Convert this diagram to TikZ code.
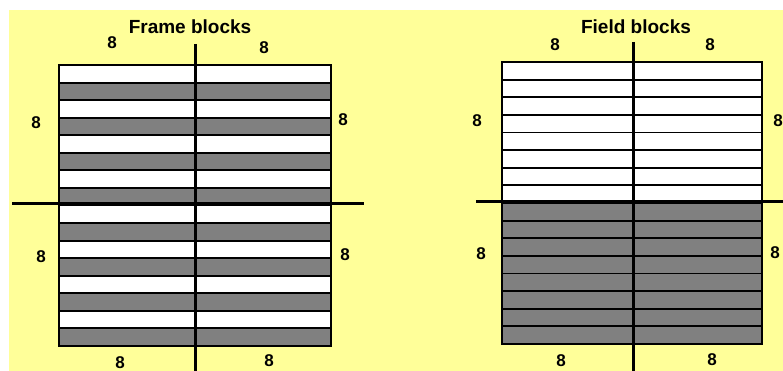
\documentclass[tikz,border=0pt]{standalone}
\usepackage{fontspec}
\setmainfont{Liberation Sans}
\definecolor{bgyellow}{RGB}{255,255,153}
\definecolor{blockgray}{RGB}{128,128,128}
\tikzset{
  lbl/.style={font=\bfseries\fontsize{17}{17}\selectfont, inner sep=0pt},
  ttl/.style={font=\bfseries\fontsize{19}{19}\selectfont, inner sep=0pt},
  rowline/.style={draw=black, line width=1.9pt},
  outline/.style={draw=black, line width=2.6pt},
  axis/.style={draw=black, line width=3pt}
}
\begin{document}
\begin{tikzpicture}[x=1pt,y=-1pt]
\useasboundingbox (0,0) rectangle (783,371);
\fill[white] (0,0) rectangle (783,371);
\fill[bgyellow] (9,10) rectangle (783,371);

% ---------- Frame blocks ----------
\foreach \i in {0,2,...,14}{
  \path[rowline, fill=white] (59,{65+\i*17.5625}) rectangle (331,{65+(\i+1)*17.5625});
}
\foreach \i in {1,3,...,15}{
  \path[rowline, fill=blockgray] (59,{65+\i*17.5625}) rectangle (331,{65+(\i+1)*17.5625});
}
\path[outline] (59,65) rectangle (331,346);
\coordinate (fvt) at (195,44);
\coordinate (fvb) at (195,371);
\coordinate (fhl) at (12,204);
\coordinate (fhr) at (364,204);
\draw[axis] (fvt) -- (fvb);
\draw[axis] (fhl) -- (fhr);

\node[ttl] (ftitle) at (190,27) {Frame blocks};
\node[lbl] (ft1) at (112,43) {8};
\node[lbl] (ft2) at (264,48) {8};
\node[lbl] (fl1) at (36,123) {8};
\node[lbl] (fr1) at (343,120) {8};
\node[lbl] (fl2) at (41,257) {8};
\node[lbl] (fr2) at (345,255) {8};
\node[lbl] (fb1) at (120,363) {8};
\node[lbl] (fb2) at (269,361) {8};

% ---------- Field blocks ----------
\foreach \i in {0,...,7}{
  \path[rowline, fill=white] (502,{62+\i*17.625}) rectangle (762,{62+(\i+1)*17.625});
}
\foreach \i in {8,...,15}{
  \path[rowline, fill=blockgray] (502,{62+\i*17.625}) rectangle (762,{62+(\i+1)*17.625});
}
\path[outline] (502,62) rectangle (762,344);
\coordinate (gvt) at (633,42);
\coordinate (gvb) at (633,371);
\coordinate (ghl) at (476,202);
\coordinate (ghr) at (783,202);
\draw[axis] (gvt) -- (gvb);
\draw[axis] (ghl) -- (ghr);

\node[ttl] (gtitle) at (636,27) {Field blocks};
\node[lbl] (gt1) at (555,45) {8};
\node[lbl] (gt2) at (710,45) {8};
\node[lbl] (gl1) at (477,121) {8};
\node[lbl] (gr1) at (778,121) {8};
\node[lbl] (gl2) at (481,254) {8};
\node[lbl] (gr2) at (775,253) {8};
\node[lbl] (gb1) at (561,361) {8};
\node[lbl] (gb2) at (712,360) {8};
\end{tikzpicture}
\end{document}
